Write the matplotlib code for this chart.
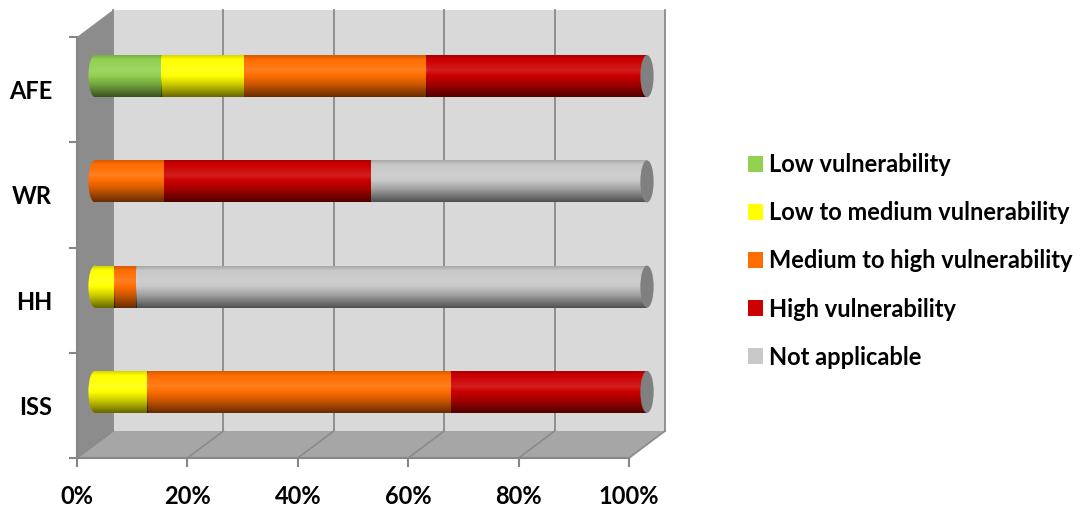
import matplotlib
matplotlib.use('Agg')
import matplotlib.pyplot as plt
import numpy as np
from matplotlib.patches import Polygon, Ellipse, Patch, Rectangle
from matplotlib.transforms import Affine2D, IdentityTransform

plt.rcParams['font.family'] = ['Lato', 'DejaVu Sans']
plt.rcParams['font.weight'] = 'bold'

# categories from bottom to top
groups = ['ISS', 'HH', 'WR', 'AFE']
series = ['Low vulnerability', 'Low to medium vulnerability',
          'Medium to high vulnerability', 'High vulnerability', 'Not applicable']
low = [0, 0, 0, 12]
low_med = [9.5, 3.5, 0, 15]
med_high = [55, 4, 12.5, 33]
high = [35.5, 0, 37.5, 40]
not_app = [0, 92.5, 50, 0]
colors = ['#92d050', '#ffff00', '#ff6d00', '#cc0000', '#c8c8c8']
xticks = [0, 20, 40, 60, 80, 100]

W, H = 1090, 516
fig = plt.figure(figsize=(W / 100, H / 100), dpi=100)
ax = fig.add_axes([77 / W, (H - 458) / H, 552 / W, 421 / H])
ax.set_xlim(0, 100)
ax.set_ylim(-0.5, len(groups) - 0.5)
ax.set_autoscale_on(False)
ax.patch.set_visible(False)

# depth planes (pixel offsets) for the fake 3d look
front = ax.transData
back = ax.transData + Affine2D().translate(36, 27)
mid = ax.transData + Affine2D().translate(18, 13.5)
y0, y1 = ax.get_ylim()

def px(tr, x, y):
    return tr.transform((x, y))

# walls and floor
ax.add_patch(Rectangle((0, y0), 100, y1 - y0, transform=back, fc='#d9d9d9',
                       ec='none', zorder=0, clip_on=False))
for v in xticks:
    ax.plot([v, v], [y0, y1], transform=back, color='#8a8a8a', lw=1.3,
            zorder=0.5, clip_on=False)
side = [px(front, 0, y1), px(back, 0, y1), px(back, 0, y0), px(front, 0, y0)]
ax.add_patch(Polygon(side, transform=IdentityTransform(), fc='#8c8c8c',
                     ec='none', zorder=0.6, clip_on=False))
floor = [px(front, 0, y0), px(front, 100, y0), px(back, 100, y0), px(back, 0, y0)]
ax.add_patch(Polygon(floor, transform=IdentityTransform(), fc='#a6a6a6',
                     ec='none', zorder=0.6, clip_on=False))
for v in xticks:
    p, q = px(front, v, y0), px(back, v, y0)
    ax.plot([p[0], q[0]], [p[1], q[1]], transform=IdentityTransform(),
            color='#8a8a8a', lw=1.2, zorder=0.7, clip_on=False)

# cylinder shading overlay
tt = np.linspace(0, 1, 64)
shade = np.interp(tt, [0, 0.12, 0.38, 0.7, 1.0], [0.2, 0.0, -0.12, 0.2, 0.6])
grad = np.zeros((64, 1, 4))
grad[..., :3] = (shade < 0)[:, None, None]
grad[..., 3] = np.abs(shade)[:, None]

def shade_patch(patch, x0, x1, yc, z):
    im = ax.imshow(grad, extent=(x0, x1, yc - bar_h / 2, yc + bar_h / 2),
                   transform=mid, aspect='auto', interpolation='bilinear',
                   zorder=z)
    im.set_clip_path(patch)

bar_h = 0.4
cap_w = 2.4
y = np.arange(len(groups))
left = np.zeros(len(groups))
data = [low, low_med, med_high, high, not_app]

# rounded left ends in the colour of the first segment
for i in range(len(groups)):
    first = next(c for vals, c in zip(data, colors) if vals[i] > 0)
    e = Ellipse((0, y[i]), cap_w, bar_h, transform=mid, fc=first, ec='none',
                zorder=2.5, clip_on=False)
    ax.add_patch(e)
    shade_patch(e, -cap_w, cap_w, y[i], 2.6)

for name, vals, c in zip(series, data, colors):
    bars = ax.barh(y, vals, height=bar_h, left=left, color=c, label=name,
                   transform=mid, clip_on=False, zorder=3)
    for i, rect in enumerate(bars):
        if vals[i] > 0:
            shade_patch(rect, left[i], left[i] + vals[i], y[i], 3.1)
    left += np.array(vals)

# gray end caps
for i in range(len(groups)):
    ax.add_patch(Ellipse((left[i], y[i]), cap_w, bar_h, transform=mid,
                         fc='#808080', ec='none', zorder=4, clip_on=False))

# axes, ticks
for s in ['top', 'right']:
    ax.spines[s].set_visible(False)
for s in ['left', 'bottom']:
    ax.spines[s].set_color('#868686')
    ax.spines[s].set_linewidth(1.5)
ax.set_xticks(xticks, [f'{v}%' for v in xticks])
ax.set_yticks(np.arange(y0, y1 + 0.1, 1), [])
ax.set_yticks(y, groups, minor=True)
ax.tick_params(axis='x', length=6.5, width=1.5, color='#868686', pad=13,
               labelsize=17)
ax.tick_params(axis='y', which='major', length=5.8, width=1.5, color='#868686')
ax.tick_params(axis='y', which='minor', length=0, pad=18, labelsize=17)

handles = [Patch(facecolor=c, edgecolor='none') for c in colors]
fig.legend(handles, series, loc='center left',
           bbox_to_anchor=(748 / W, 1 - 261 / H), frameon=False, fontsize=17,
           handlelength=0.64, handleheight=0.64, handletextpad=0.27,
           labelspacing=1.06, borderpad=0, borderaxespad=0)

fig.savefig('out.png', dpi=100)
